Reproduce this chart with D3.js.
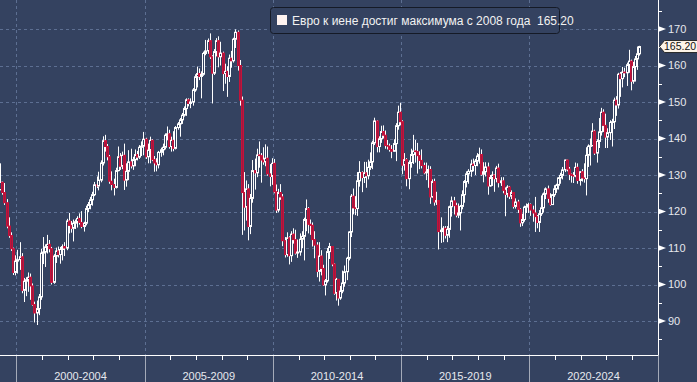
<!DOCTYPE html>
<html><head><meta charset="utf-8">
<script src="https://cdn.jsdelivr.net/npm/d3@7"></script>
<style>
html,body{margin:0;padding:0;background:#344260;}
svg{display:block;}
text{font-family:"Liberation Sans",Arial,sans-serif;}
</style></head>
<body>
<script>
// ---- data (monthly EUR/JPY candles, May 1999 .. Apr 2024) ----
const startYear = 1999, startMonth = 4; // May 1999 (0-based month)
const firstOpen = 126.0;
const closes = [
 128.0,125.2,122.4,116.0,113.4,109.8,103.3,106.4,
 106.8,107.6,98.4,100.9,101.3,102.0,99.6,94.5,92.2,93.4,96.6,108.6,
 108.9,110.3,111.0,109.8,100.6,107.8,109.2,108.2,109.6,110.4,110.0,117.4,
 116.2,115.4,116.8,117.2,118.1,117.0,115.9,116.8,120.8,121.9,123.2,124.6,
 127.3,127.0,128.6,133.3,139.4,137.8,135.0,128.3,127.4,126.6,131.2,135.0,
 132.4,135.4,128.6,131.0,133.6,132.5,134.2,135.6,134.9,137.6,137.9,139.8,
 135.0,136.8,139.5,134.2,133.3,132.8,136.2,136.9,137.6,140.9,141.3,137.8,
 139.5,137.3,143.0,144.0,145.1,146.4,148.2,150.6,149.6,150.0,153.3,156.9,
 157.8,157.0,157.6,163.3,164.0,166.8,162.4,157.9,163.8,166.8,162.4,163.4,
 157.8,158.4,157.0,162.0,161.3,167.2,169.1,160.0,150.5,125.2,121.2,126.2,
 115.9,123.6,131.2,130.6,135.5,135.3,134.1,133.6,134.6,130.3,129.6,133.2,
 125.4,120.4,125.2,124.0,112.0,108.2,112.8,107.9,113.8,112.3,108.6,108.9,
 112.4,113.2,117.8,120.8,116.5,116.2,112.3,110.8,103.6,107.8,104.4,99.9,
 101.0,109.0,110.4,105.6,97.6,101.4,96.3,98.2,100.4,103.5,107.2,114.4,
 124.2,121.0,120.8,128.4,130.7,129.3,130.6,129.8,132.1,133.6,138.8,144.8,
 137.8,139.9,141.9,140.9,138.1,137.9,137.0,136.5,138.6,143.5,147.2,144.6,
 132.7,134.2,129.0,133.4,135.6,136.6,136.4,135.3,134.0,132.6,130.6,130.8,
 131.5,124.0,128.2,122.6,123.0,114.5,114.9,115.4,113.5,115.1,121.3,122.9,
 121.6,119.0,119.6,121.4,124.6,128.2,130.3,131.0,133.0,132.6,133.8,135.2,
 135.6,130.2,130.9,132.2,127.0,129.3,130.0,129.0,131.9,127.9,128.4,125.8,
 124.7,126.7,124.2,125.2,121.4,122.6,120.6,116.9,117.8,121.2,121.4,121.9,
 120.4,119.6,118.6,117.0,119.4,121.0,124.8,126.2,123.6,121.9,124.6,126.2,
 127.2,129.2,129.9,131.4,134.1,131.6,130.2,129.9,129.7,132.1,128.5,130.9,
 129.2,129.0,135.4,137.9,138.0,142.0,136.0,139.2,141.8,147.2,143.6,140.4,
 141.6,144.4,144.6,150.5,149.2,157.6,156.4,158.2,158.0,160.2,161.2,155.7,
 159.7,161.8,163.2,165.2
];
const highs = [
 133.2,128.2,127.8,123.4,118.4,114.3,110.1,108.0,
 109.5,111.6,108.6,101.8,102.0,103.3,103.0,100.3,95.3,95.6,97.4,109.8,
 113.0,111.0,113.6,112.2,110.3,108.3,110.1,110.4,110.3,111.0,111.6,118.0,
 119.6,117.4,117.8,117.8,118.7,119.5,120.1,117.2,121.6,122.6,124.0,125.4,
 128.1,129.6,130.9,134.0,140.6,141.0,138.5,135.5,131.0,129.0,132.0,137.8,
 136.0,136.4,138.6,133.2,136.8,137.2,135.0,137.0,136.6,138.2,139.2,141.8,
 140.2,138.6,140.5,139.8,135.2,134.6,136.6,137.5,138.6,141.4,143.3,142.4,
 140.5,142.0,143.4,144.5,145.6,147.0,148.8,151.0,151.0,151.0,153.8,157.6,
 159.7,159.2,158.4,163.8,167.0,167.4,168.8,162.8,164.5,167.5,168.0,166.5,
 163.8,160.5,159.8,163.0,164.0,167.6,169.9,169.6,161.5,151.5,130.8,128.5,
 127.5,124.8,134.1,134.5,137.2,139.2,136.0,137.6,138.4,137.8,133.0,134.6,
 134.4,127.4,126.2,127.5,124.8,113.0,114.3,113.2,114.6,115.4,115.0,112.3,
 114.0,114.6,118.3,123.3,121.2,117.8,117.0,114.6,111.6,111.6,109.4,105.4,
 101.5,110.0,111.4,110.2,105.8,101.8,101.2,99.6,103.8,105.2,107.6,114.6,
 124.8,126.3,124.2,130.8,133.8,131.0,133.6,133.6,134.2,136.2,139.4,145.7,
 145.0,140.6,143.5,143.6,142.2,139.6,138.6,138.2,139.8,144.2,149.0,149.8,
 145.0,136.0,134.6,134.0,137.2,141.0,139.6,138.8,136.5,137.0,133.4,133.4,
 132.6,132.4,128.8,129.0,125.4,123.0,118.4,116.0,116.0,116.0,121.6,124.1,
 124.0,122.4,122.2,121.8,125.8,128.6,131.0,131.6,134.2,134.5,134.4,136.0,
 137.5,137.0,133.5,133.5,133.4,130.0,131.0,130.2,132.5,133.1,129.4,129.4,
 126.6,127.2,127.0,125.8,125.2,123.6,123.2,120.9,119.4,121.6,122.2,122.4,
 122.2,121.6,124.0,119.0,120.4,124.4,125.2,126.6,127.1,125.0,124.8,127.2,
 127.6,129.4,130.6,132.2,134.2,134.2,132.2,130.4,130.8,133.4,133.2,131.1,
 131.6,133.2,137.6,138.4,140.0,144.2,142.4,139.8,145.6,148.4,148.0,146.8,
 142.8,145.0,145.4,151.2,151.6,158.0,158.2,159.6,159.4,160.8,164.3,161.6,
 161.0,162.6,165.2,165.4
];
const lows = [
 125.8,124.6,121.8,115.4,112.8,109.2,102.6,102.5,
 103.0,104.0,97.6,95.2,96.8,98.0,95.8,94.2,89.6,88.9,91.6,95.8,
 105.6,104.8,108.5,108.8,100.0,100.2,105.9,107.4,105.7,106.6,107.8,109.4,
 114.0,114.2,111.8,115.2,115.6,116.4,115.4,114.5,116.2,119.8,120.6,121.6,
 124.2,126.4,125.8,128.0,132.6,136.4,134.0,127.6,125.8,124.4,126.3,131.0,
 131.4,131.6,125.9,126.8,128.6,131.8,131.4,132.4,134.0,134.4,135.2,135.4,
 134.4,133.2,133.2,133.8,130.9,131.0,131.8,135.0,135.4,137.0,139.5,137.2,
 136.4,136.5,137.0,142.4,140.5,144.0,146.0,146.2,148.8,148.3,149.0,152.8,
 154.0,156.0,151.0,157.2,162.8,163.2,161.8,149.6,157.4,162.5,159.5,160.0,
 153.0,155.0,151.4,155.5,159.4,160.8,164.8,158.6,149.0,113.6,114.8,117.5,
 112.1,113.8,122.4,126.0,129.4,132.0,127.9,132.8,132.4,129.8,126.9,127.3,
 125.0,119.6,119.8,123.2,110.5,107.4,107.6,105.5,106.2,111.2,108.2,107.3,
 107.9,110.0,106.6,114.6,114.0,113.6,110.4,107.2,102.0,100.8,102.5,99.6,
 97.0,100.5,107.0,105.0,97.2,95.6,94.2,95.8,97.6,99.4,101.2,106.6,
 113.0,119.2,119.0,118.8,126.8,125.3,127.8,126.5,128.8,131.4,131.6,138.2,
 136.2,136.2,138.8,140.0,137.2,137.0,136.4,134.6,136.4,133.8,142.4,143.6,
 130.2,131.2,126.9,126.1,132.0,133.0,133.4,130.4,131.6,131.8,130.2,128.6,
 126.5,122.1,123.8,121.6,121.8,109.6,111.4,111.6,112.6,111.6,112.8,118.6,
 119.2,118.4,118.2,114.8,120.6,122.4,126.6,127.6,129.5,131.0,130.0,132.4,
 133.1,129.8,128.0,129.6,124.6,126.8,127.0,125.4,128.0,126.6,127.0,125.0,
 118.7,123.8,123.4,123.4,120.8,120.8,119.6,115.8,116.0,117.2,119.6,119.6,
 118.8,117.2,114.4,115.4,114.4,118.8,119.7,123.4,122.4,121.6,121.8,124.0,
 125.1,126.0,127.6,128.8,130.8,131.0,128.6,127.9,127.8,129.4,127.6,127.1,
 128.2,127.9,124.4,132.2,132.6,138.2,135.5,133.4,137.4,140.8,141.8,137.4,
 137.4,139.6,137.8,142.6,146.2,148.2,151.4,154.0,156.8,154.4,158.0,153.2,
 155.0,155.6,158.8,162.7
];
const periodLabels = ["2000-2004","2005-2009","2010-2014","2015-2019","2020-2024"];
const periodStarts = [2000,2005,2010,2015,2020,2025];
const yMajorTicks = [90,100,110,120,130,140,150,160,170];
const yMinorTicks = [85,95,105,115,125,135,145,155,165,175];
const lastValueLabel = "165.20";
const legendText = "Евро к иене достиг максимума с 2008 года  165.20";

// ---- build candles ----
const candles = closes.map((c, i) => {
  const o = i === 0 ? firstOpen : closes[i - 1];
  return {
    date: new Date(Date.UTC(startYear, startMonth + i, 16)),
    o, c,
    h: Math.max(highs[i], o, c),
    l: Math.min(lows[i], o, c)
  };
});

// ---- layout ----
const W = 697, H = 382;
const plotRight = 658, plotBottom = 355;
const BG = "#344260";

const x = d3.scaleUtc()
  .domain([new Date(Date.UTC(2000,0,1)), new Date(Date.UTC(2025,0,1))])
  .range([16.3, 657.7]);
const y = d3.scaleLinear().domain([90,170]).range([321,29]);

const svg = d3.select("body").append("svg").attr("width", W).attr("height", H);
svg.append("rect").attr("width", W).attr("height", H).attr("fill", BG);

svg.append("clipPath").attr("id","plotclip")
  .append("rect").attr("x",0).attr("y",0).attr("width",plotRight).attr("height",plotBottom);

// gridlines
const grid = svg.append("g").attr("stroke","#5d6f92").attr("stroke-width",1).attr("stroke-dasharray","3,3");
yMajorTicks.forEach(t => {
  const yy = Math.round(y(t)) + 0.5;
  grid.append("line").attr("x1",0).attr("x2",plotRight).attr("y1",yy).attr("y2",yy);
});
periodStarts.slice(0,5).forEach(yr => {
  const xx = Math.round(x(new Date(Date.UTC(yr,0,1)))) + 0.5;
  grid.append("line").attr("x1",xx).attr("x2",xx).attr("y1",0).attr("y2",plotBottom);
});

// candles
const cg = svg.append("g").attr("clip-path","url(#plotclip)");
candles.forEach(d => {
  const r = Math.round(x(d.date));
  cg.append("line")
    .attr("x1", r + 0.5).attr("x2", r + 0.5)
    .attr("y1", y(d.h)).attr("y2", y(d.l))
    .attr("stroke", "#ffffff").attr("stroke-width", 1);
});
candles.forEach(d => {
  const r = Math.round(x(d.date));
  const up = d.c >= d.o;
  const top = y(Math.max(d.o, d.c)), bot = y(Math.min(d.o, d.c));
  cg.append("rect")
    .attr("x", r - 0.5).attr("width", 2)
    .attr("y", top).attr("height", Math.max(0.6, bot - top))
    .attr("fill", up ? BG : "#a2183e")
    .attr("stroke", up ? "#ffffff" : "#c4123a")
    .attr("stroke-width", 1);
});

// axes
const ax = svg.append("g");
ax.append("line").attr("x1",0).attr("x2",plotRight+0.5).attr("y1",plotBottom+0.5).attr("y2",plotBottom+0.5)
  .attr("stroke","#ffffff").attr("stroke-width",1);
ax.append("line").attr("x1",plotRight+0.5).attr("x2",plotRight+0.5).attr("y1",0).attr("y2",plotBottom+0.5)
  .attr("stroke","#ffffff").attr("stroke-width",1);

// year ticks
d3.range(2000, 2025).forEach(yr => {
  const xx = Math.round(x(new Date(Date.UTC(yr,0,1)))) + 0.5;
  ax.append("line").attr("x1",xx).attr("x2",xx).attr("y1",plotBottom).attr("y2",plotBottom+5)
    .attr("stroke","#ffffff");
});
// period separators
periodStarts.forEach(yr => {
  const xx = Math.round(x(new Date(Date.UTC(yr,0,1)))) + 0.5;
  ax.append("line").attr("x1",xx).attr("x2",xx).attr("y1",plotBottom+1).attr("y2",H)
    .attr("stroke","#a4aab8");
});
// period labels
periodLabels.forEach((lab, k) => {
  const x0 = x(new Date(Date.UTC(periodStarts[k],0,1)));
  const x1 = x(new Date(Date.UTC(periodStarts[k+1],0,1)));
  ax.append("text").attr("x",(x0+x1)/2).attr("y",380)
    .attr("text-anchor","middle").attr("font-size","11px").attr("fill","#e6e8ee").text(lab);
});

// y ticks
yMinorTicks.forEach(t => {
  const yy = Math.round(y(t)) + 0.5;
  ax.append("line").attr("x1",plotRight).attr("x2",plotRight+4).attr("y1",yy).attr("y2",yy).attr("stroke","#ffffff");
});
yMajorTicks.forEach(t => {
  const yy = y(t);
  ax.append("path")
    .attr("d", `M${plotRight},${yy-3}L${plotRight+8},${yy}L${plotRight},${yy+3}Z`)
    .attr("fill","#ffffff");
  ax.append("text").attr("x",668).attr("y",yy).attr("dy","0.35em")
    .attr("font-size","11px").attr("fill","#e6e8ee").text(t);
});

// last value label
const lastC = closes[closes.length-1];
const ly = y(lastC);
svg.append("path")
  .attr("d", `M${plotRight+1.5},${ly}L${plotRight+6.5},${ly-6}L${W+2},${ly-6}L${W+2},${ly+6}L${plotRight+6.5},${ly+6}Z`)
  .attr("fill","#fdf4e8").attr("stroke","#2a2a2a").attr("stroke-width",1);
svg.append("text").attr("x",664).attr("y",ly).attr("dy","0.36em")
  .attr("font-size","10.5px").attr("fill","#111111").text(lastValueLabel);

// legend
const lg = svg.append("g");
lg.append("rect").attr("x",270.5).attr("y",7.5).attr("width",289).attr("height",26).attr("rx",3)
  .attr("fill",BG).attr("stroke","#151a26").attr("stroke-width",1);
lg.append("rect").attr("x",277).attr("y",15).attr("width",10).attr("height",10).attr("fill","#fff3f0");
lg.append("text").attr("x",292).attr("y",25).attr("font-size","12px").attr("fill","#f2f2f2")
  .style("white-space","pre").text(legendText);
</script>
</body></html>
